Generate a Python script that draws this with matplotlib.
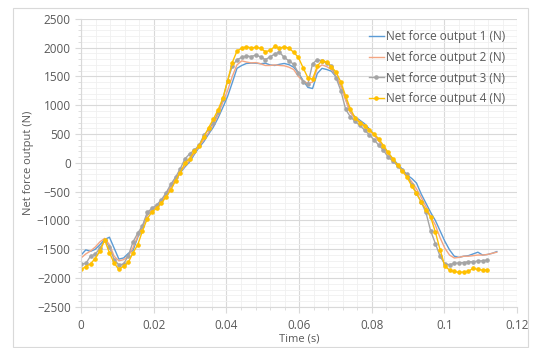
import numpy as np
import matplotlib
matplotlib.use("Agg")
import matplotlib.pyplot as plt
from matplotlib.ticker import MultipleLocator
from matplotlib.patches import Rectangle

plt.rcParams['font.family'] = ['Open Sans', 'DejaVu Sans']

dt = 0.0013  # sample step of the recorded data (s)

# net force output 1 (N), blue
force1 = [-1600, -1510, -1535, -1500, -1420, -1330, -1290, -1480, -1670, -1650,
          -1570, -1520, -1290, -1110, -910, -820, -760, -680, -550, -420,
          -280, -170, -70, 20, 150, 270, 370, 500, 620, 780,
          960, 1150, 1390, 1640, 1690, 1725, 1730, 1730, 1720, 1730,
          1700, 1690, 1710, 1725, 1705, 1660, 1560, 1430, 1310, 1290,
          1550, 1640, 1620, 1590, 1490, 1340, 1110, 880, 800, 740,
          680, 590, 490, 390, 290, 170, 70, -20, -110, -210,
          -270, -350, -540, -700, -860, -1000, -1180, -1360, -1510, -1620,
          -1640, -1620, -1610, -1580, -1550, -1600, -1590, -1570, -1540]

# net force output 2 (N), orange
force2 = [-1650, -1580, -1530, -1460, -1370, -1310, -1420, -1620, -1700, -1680,
          -1620, -1470, -1270, -1100, -900, -820, -760, -670, -550, -420,
          -280, -160, -50, 50, 170, 290, 400, 530, 660, 830,
          1050, 1250, 1500, 1700, 1770, 1750, 1735, 1740, 1720, 1690,
          1690, 1700, 1690, 1685, 1660, 1620, 1500, 1420, 1380, 1400,
          1640, 1700, 1670, 1620, 1500, 1330, 1090, 870, 780, 720,
          650, 570, 480, 380, 270, 150, 50, -40, -130, -220,
          -330, -450, -600, -760, -930, -1080, -1300, -1480, -1600, -1650,
          -1640, -1620, -1620, -1610, -1600, -1600, -1590, -1570, -1550]

# net force output 3 (N), grey with markers
force3 = [-1750, -1745, -1620, -1585, -1480, -1340, -1460, -1680, -1770, -1755,
          -1610, -1370, -1220, -1090, -860, -790, -730, -640, -520, -370,
          -250, -100, 70, 160, 220, 310, 480, 580, 700, 880,
          1100, 1420, 1680, 1790, 1830, 1855, 1845, 1870, 1840, 1790,
          1840, 1890, 1920, 1830, 1770, 1710, 1560, 1400, 1360, 1720,
          1790, 1770, 1730, 1680, 1470, 1250, 930, 800, 720, 650,
          570, 490, 400, 310, 220, 100, 30, -50, -130, -200,
          -380, -520, -680, -860, -1180, -1400, -1620, -1760, -1765, -1745,
          -1735, -1730, -1715, -1715, -1705, -1700, -1685]

# net force output 4 (N), yellow with markers
force4 = [-1850, -1800, -1750, -1660, -1530, -1340, -1560, -1740, -1850, -1790,
          -1725, -1560, -1420, -1180, -970, -850, -790, -700, -590, -470,
          -310, -170, 0, 75, 200, 300, 450, 610, 760, 920,
          1120, 1420, 1740, 1940, 1990, 2015, 1995, 2005, 1990, 1930,
          1950, 2020, 1990, 2015, 1990, 1920, 1830, 1650, 1480, 1450,
          1680, 1775, 1750, 1670, 1570, 1400, 1160, 940, 780, 700,
          640, 575, 500, 420, 300, 180, 70, -40, -140, -250,
          -400, -530, -680, -810, -940, -1200, -1510, -1790, -1860, -1885,
          -1900, -1895, -1880, -1830, -1850, -1860, -1860]

labels = ['Net force output 1 (N)', 'Net force output 2 (N)',
          'Net force output 3 (N)', 'Net force output 4 (N)']

fig = plt.figure(figsize=(5.37, 3.48), dpi=100)
ax = fig.add_axes([0.151, 0.118, 0.812, 0.828])

# light frame round the whole chart, like the spreadsheet export
fig.patches.append(Rectangle((0.024, 0.003), 0.959, 0.975, transform=fig.transFigure,
                             fill=False, ec='#D9D9D9', lw=0.8))

t1 = np.arange(len(force1)) * dt
t2 = np.arange(len(force2)) * dt
t3 = np.arange(len(force3)) * dt
t4 = np.arange(len(force4)) * dt

ax.plot(t1, force1, color='#5B9BD5', lw=1.0, label=labels[0])
ax.plot(t2, force2, color='#F4A582', lw=1.0, label=labels[1])
ax.plot(t3, force3, color='#A5A5A5', lw=1.0, marker='o', ms=2.3, label=labels[2])
ax.plot(t4, force4, color='#FFC000', lw=1.0, marker='o', ms=2.3, label=labels[3])

ax.set_xlim(0, 0.12)
ax.set_ylim(-2500, 2500)
ax.xaxis.set_major_locator(MultipleLocator(0.02))
ax.xaxis.set_minor_locator(MultipleLocator(0.004))
ax.yaxis.set_major_locator(MultipleLocator(500))
ax.yaxis.set_minor_locator(MultipleLocator(100))
ax.set_xticks([0, 0.02, 0.04, 0.06, 0.08, 0.1, 0.12])
ax.set_xticklabels(['0', '0.02', '0.04', '0.06', '0.08', '0.1', '0.12'])

ax.grid(which='major', color='#D9D9D9', lw=0.8)
ax.grid(which='minor', color='#F0F0F0', lw=0.6)
ax.set_axisbelow(True)

for s in ['top', 'right']:
    ax.spines[s].set_visible(False)
for s in ['left', 'bottom']:
    ax.spines[s].set_color('#D9D9D9')

ax.tick_params(which='major', colors='#595959', labelsize=8.5, length=4, color='#D9D9D9')
ax.tick_params(which='minor', length=2, color='#D9D9D9')
ax.tick_params(axis='x', pad=5)

ax.set_xlabel('Time (s)', fontsize=8, color='#595959', labelpad=1)
ax.set_ylabel('Net force output (N)', fontsize=8, color='#595959', labelpad=2)

ax.legend(loc='upper right', bbox_to_anchor=(0.99, 0.985), frameon=False,
          fontsize=8.5, labelcolor='#595959', handlelength=1.3, handletextpad=0.2,
          labelspacing=0.65, borderaxespad=0.2)

fig.savefig('out.png', dpi=100)
